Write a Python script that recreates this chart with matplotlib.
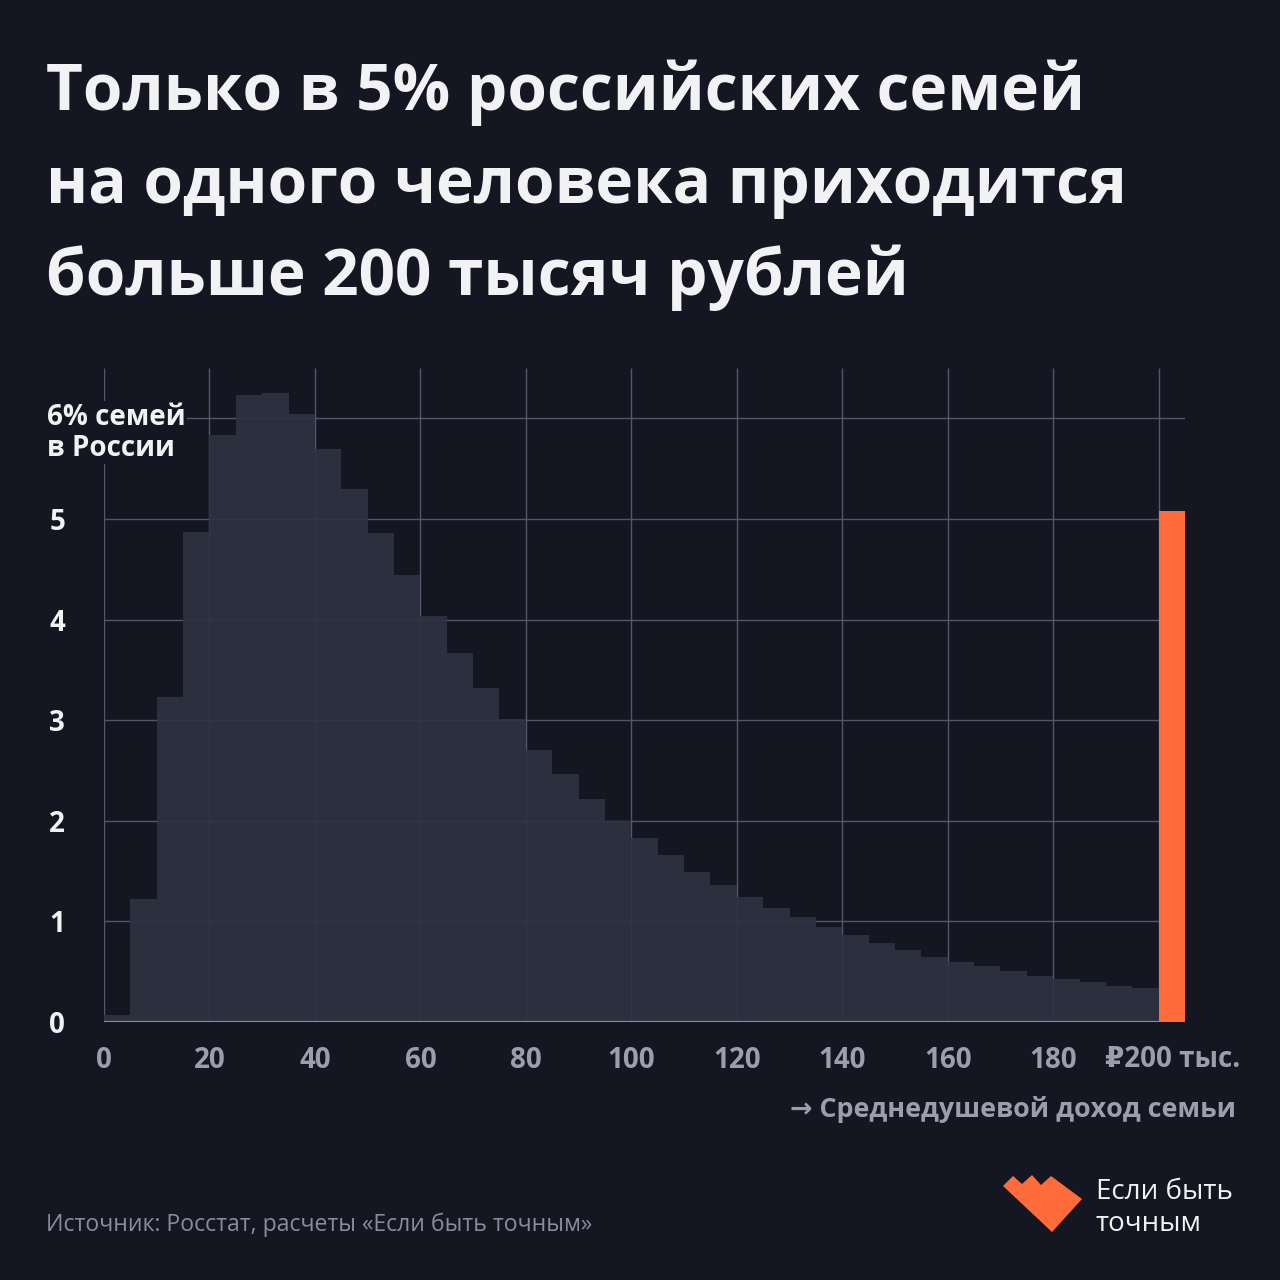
import matplotlib.pyplot as plt
from matplotlib.patches import Polygon

# данные: доля семей (%) по среднедушевому доходу, шаг 5 тыс. руб.
bin_starts = list(range(0, 200, 5))
shares = [0.07, 1.22, 3.23, 4.87, 5.83, 6.23, 6.25, 6.04, 5.69, 5.30,
          4.86, 4.44, 4.04, 3.67, 3.32, 3.01, 2.70, 2.46, 2.22, 2.00,
          1.83, 1.66, 1.49, 1.36, 1.24, 1.13, 1.04, 0.94, 0.86, 0.79,
          0.72, 0.65, 0.60, 0.56, 0.51, 0.46, 0.43, 0.40, 0.36, 0.34]
top_start = 200
top_share = 5.08

x_ticks = [0, 20, 40, 60, 80, 100, 120, 140, 160, 180]
y_ticks = [0, 1, 2, 3, 4, 5]

title_lines = ["Только в 5% российских семей",
               "на одного человека приходится",
               "больше 200 тысяч рублей"]

BG = "#141622"
BAR = "#2e3242"
ORANGE = "#ff6b3a"
GRID = "#545767"
GREY = "#9c9eab"
WHITE = "#f2f2f4"
FONT = ["Open Sans", "DejaVu Sans"]

plt.rcParams["font.family"] = FONT

fig = plt.figure(figsize=(12.8, 12.8), dpi=100, facecolor=BG)

def px(x, y):
    return x / 1280, 1 - y / 1280

# заголовок
for line, yb in zip(title_lines, [110, 203, 295]):
    fig.text(*px(46, yb), line, color=WHITE, fontsize=46, fontweight="bold",
             va="baseline", ha="left")

ax = fig.add_axes([104 / 1280, 1 - 1022 / 1280, (1185 - 104) / 1280, (1022 - 368) / 1280])
ax.set_facecolor(BG)
ax.set_xlim(0, 205)
ax.set_ylim(0, 6.5)
for s in ax.spines.values():
    s.set_visible(False)

# сетка
ax.vlines(x_ticks + [200], 0, 6.5, color=GRID, lw=1, zorder=0)
ax.hlines(y_ticks[1:], 0, 200, color=GRID, lw=1, zorder=0)
ax.hlines(6, 0, 205, color=GRID, lw=1, zorder=0)

ax.bar(bin_starts, shares, width=5, align="edge", color=BAR, alpha=0.9,
       linewidth=0, zorder=2)
ax.bar(top_start, top_share, width=5, align="edge", color=ORANGE,
       linewidth=0, zorder=3)
ax.hlines(0, 0, 205, color="#8d8f9c", lw=1.5, zorder=4)

ax.set_yticks(y_ticks)
ax.set_yticklabels([str(v) for v in y_ticks])
ax.tick_params(axis="y", length=0, pad=28, labelsize=20, labelcolor=WHITE)
for t in ax.get_yticklabels():
    t.set_fontweight("bold")
ax.set_xticks(x_ticks)
ax.set_xticklabels([str(v) for v in x_ticks])
ax.tick_params(axis="x", length=0, pad=17, labelsize=20, labelcolor=GREY)
for t in ax.get_xticklabels():
    t.set_fontweight("bold")

ax.text(189.8, -0.37, "₽200 тыс.", color=GREY, fontsize=20, fontweight="bold",
        ha="left", va="center", family=FONT, clip_on=False)

# подпись оси Y поверх сетки
for line, yv in [("6% семей", 5.93), ("в России", 5.63)]:
    ax.text(-10.9, yv, line, color=WHITE, fontsize=20, fontweight="bold",
            ha="left", va="baseline",
            bbox=dict(facecolor=BG, edgecolor="none", pad=1.5), zorder=5)

fig.text(*px(1236, 1117), "→ Среднедушевой доход семьи", color=GREY,
         fontsize=19.4, fontweight="bold", ha="right", va="baseline")

fig.text(*px(46, 1231), "Источник: Росстат, расчеты «Если быть точным»",
         color="#8a8c99", fontsize=16.6, ha="left", va="baseline")

# логотип
logo = [(1003, 1186), (1013, 1176), (1022, 1184), (1032, 1175), (1041, 1185),
        (1051, 1176), (1082, 1199), (1052, 1232)]
fig.patches.append(Polygon([px(x, y) for x, y in logo], closed=True,
                           facecolor=ORANGE, edgecolor="none",
                           transform=fig.transFigure, figure=fig))
fig.text(*px(1096, 1199), "Если быть", color=WHITE, fontsize=20,
         ha="left", va="baseline")
fig.text(*px(1096, 1231), "точным", color=WHITE, fontsize=20,
         ha="left", va="baseline")

fig.savefig("out.png", dpi=100, facecolor=BG)
